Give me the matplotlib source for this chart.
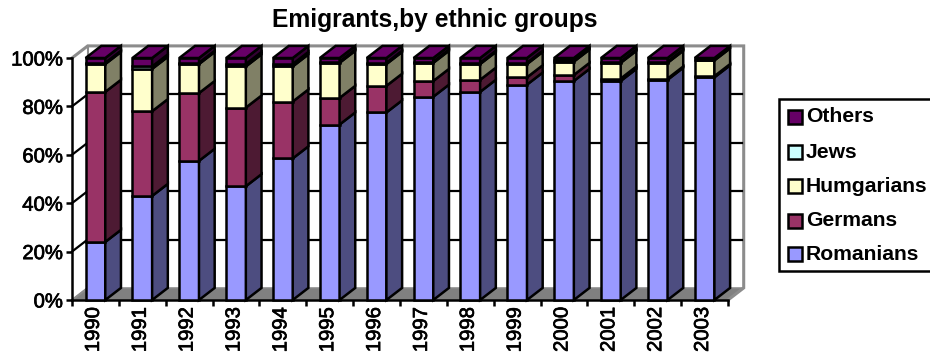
import matplotlib
matplotlib.use('Agg')
import matplotlib.pyplot as plt
import matplotlib.patheffects as pe
from matplotlib.patches import Polygon, Rectangle
from matplotlib.transforms import ScaledTranslation

plt.rcParams['font.family'] = ['Liberation Sans', 'DejaVu Sans']

years = ['1990', '1991', '1992', '1993', '1994', '1995', '1996',
         '1997', '1998', '1999', '2000', '2001', '2002', '2003']
romanians = [24, 43, 57.5, 47, 58.5, 72.5, 77.5, 84, 86, 89, 90.5, 90.5, 91, 92]
germans = [62, 35, 28, 32.5, 23.5, 11, 11, 6.5, 5, 3, 2.5, 1, 0.5, 0.5]
hungarians = [11.5, 17.5, 12, 17, 14.5, 14.5, 9, 7.5, 6.5, 5.5, 5.5, 6.5, 6.5, 6.5]
jews = [0.5, 1, 0.5, 1, 1, 0.5, 0.5, 0.5, 0.5, 0.5, 0.5, 0.5, 0.5, 0]
others = [2, 3.5, 2, 2.5, 2.5, 1.5, 2, 1.5, 2, 2, 1, 1.5, 1.5, 1]

names = ['Romanians', 'Germans', 'Humgarians', 'Jews', 'Others']
series = [romanians, germans, hungarians, jews, others]
front_cols = ['#9999FF', '#993366', '#FFFFCC', '#CCFFFF', '#660066']
side_cols = ['#4D4D80', '#4D1A33', '#808066', '#668080', '#330033']
y_ticks = [0, 20, 40, 60, 80, 100]

W, H = 930, 356
DX, DY = 0.335, 5.0   # depth of the 3d box, in data units
BAR_W = 0.42
EDGE = 1.8
heavy = [pe.withStroke(linewidth=0.5, foreground='black')]

fig = plt.figure(figsize=(W / 100, H / 100), dpi=100)
ax = fig.add_axes([72 / W, (H - 300) / H, 656 / W, 242 / H])
ax.patch.set_visible(False)
ax.set_xlim(0, len(years))
ax.set_ylim(0, 100)

# ---- box behind the bars ----
n = len(years)
GREY = '#8C8C8C'
ax.add_patch(Polygon([(0, 0), (n, 0), (n + DX, DY), (DX, DY)], closed=True,
                     fc='#808080', ec=GREY, lw=1, clip_on=False, zorder=1))
ax.plot([0, DX, n + DX, n + DX, n], [100, 100 + DY, 100 + DY, DY, 0],
        color=GREY, lw=2.2, clip_on=False, zorder=1, solid_joinstyle='miter')
ax.plot([DX, DX], [DY, 100 + DY], color=GREY, lw=1.5, clip_on=False, zorder=1)
ax.plot([0, DX], [0, DY], color=GREY, lw=1.5, clip_on=False, zorder=1)
for t in y_ticks[1:-1]:
    ax.plot([DX, n + DX - 0.04], [t + DY, t + DY], color='black', lw=1.6, clip_on=False, zorder=1.5)
    ax.plot([0, DX], [t, t + DY], color='black', lw=1.6, clip_on=False, zorder=1.5)

# ---- bars ----
bottom = [0] * n
for vals, name, fc, sc in zip(series, names, front_cols, side_cols):
    xs = [i + 0.5 for i in range(n)]
    ax.bar(xs, vals, BAR_W, bottom=bottom, color=fc, edgecolor='black', linewidth=EDGE,
           zorder=3, clip_on=False, label=name)
    for i in range(n):
        if vals[i] == 0:
            continue
        x1 = xs[i] + BAR_W / 2
        b, t = bottom[i], bottom[i] + vals[i]
        ax.add_patch(Polygon([(x1, b), (x1 + DX, b + DY), (x1 + DX, t + DY), (x1, t)], closed=True,
                             fc=sc, ec='black', lw=EDGE, clip_on=False, zorder=3,
                             joinstyle='miter'))
    bottom = [b + v for b, v in zip(bottom, vals)]

for i in range(n):
    x0, x1 = i + 0.5 - BAR_W / 2, i + 0.5 + BAR_W / 2
    t = bottom[i]
    ax.add_patch(Polygon([(x0, t), (x1, t), (x1 + DX, t + DY), (x0 + DX, t + DY)], closed=True,
                         fc=front_cols[-1], ec='black', lw=EDGE, clip_on=False, zorder=3,
                         joinstyle='miter'))

# ---- axes ----
for s in ['top', 'right']:
    ax.spines[s].set_visible(False)
for s in ['left', 'bottom']:
    ax.spines[s].set_linewidth(1.8)
ax.set_yticks(y_ticks)
ax.set_yticklabels([f'{t}%' for t in y_ticks], fontsize=14.6, path_effects=heavy)
ax.tick_params(axis='y', length=4.5, width=1.8, pad=2)
ax.set_xticks(range(n + 1))
ax.set_xticklabels([])
ax.tick_params(axis='x', which='major', length=4.5, width=1.8)
ax.set_xticks([i + 0.5 for i in range(n)], minor=True)
ax.set_xticklabels(years, minor=True, rotation=90, fontsize=14.6, path_effects=heavy)
ax.tick_params(axis='x', which='minor', length=0, pad=5)
shift = ScaledTranslation(-2 / 100, 0, fig.dpi_scale_trans)
for lab in ax.get_xticklabels(minor=True):
    lab.set_ha('center')
    lab.set_transform(lab.get_transform() + shift)

fig.text(435 / W, (H - 20) / H, 'Emigrants,by ethnic groups', fontsize=17.7, fontweight='bold',
         ha='center', va='center')

# ---- legend, runs off the right edge of the picture ----
fig.add_artist(Rectangle((779 / W, (H - 271) / H), 170 / W, 172 / H, transform=fig.transFigure,
                         fc='white', ec='black', lw=1.8))
leg_y = [254, 221, 186, 152, 117]
for name, fc, y in zip(names, front_cols, leg_y):
    fig.add_artist(Rectangle((787.5 / W, (H - y - 7) / H), 14 / W, 14 / H, transform=fig.transFigure,
                             fc=fc, ec='black', lw=1.8))
    fig.text(806 / W, (H - y) / H, name, fontsize=15.2, fontweight='bold', ha='left', va='center')

fig.savefig('out.png', dpi=100)
